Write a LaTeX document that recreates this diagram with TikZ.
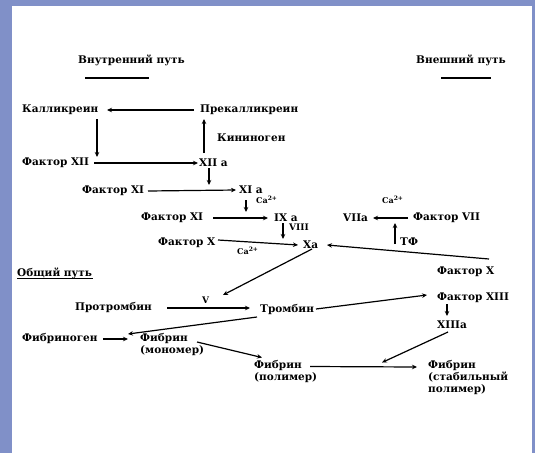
\documentclass[tikz,border=0pt]{standalone}
\usepackage{fontspec}
\setmainfont{DejaVu Serif}
\usetikzlibrary{arrows.meta,calc}
\definecolor{framecol}{RGB}{128,144,200}
\begin{document}
\begin{tikzpicture}[x=1pt,y=-1pt,
  lbl/.style={font=\bfseries\fontsize{10.5}{12}\selectfont, inner sep=0pt, anchor=west, align=left},
  sml/.style={font=\bfseries\fontsize{8}{9}\selectfont, inner sep=0pt, anchor=west},
  arr/.style={-{Stealth[length=5pt,width=4.5pt]}, line width=1.2pt},
  bar/.style={line width=1.4pt}]
\useasboundingbox (0,0) rectangle (535,453);
\fill[framecol] (0,0) rectangle (535,453);
\fill[white] (12,6) rectangle (532,453);
% headers
\node[lbl] (vnut) at (78,60) {Внутренний путь};
\node[lbl] (vnesh) at (416,60) {Внешний путь};
\draw[bar] ($(vnut.west)+(7,18)$) -- ($(vnut.west)+(71,18)$);
\draw[bar] ($(vnesh.west)+(25,18)$) -- ($(vnesh.west)+(75,18)$);
% intrinsic
\node[lbl] (kal) at (22,110) {Калликреин};
\node[lbl] (prek) at (200,110) {Прекалликреин};
\node[lbl] (kin) at (217,138) {Кининоген};
\node[lbl] (f12) at (22,163) {Фактор XII};
\node[lbl] (f12a) at (199,163) {XII a};
\node[lbl] (f11) at (82,191) {Фактор XI};
\node[lbl] (f11a) at (239,190) {XI a};
\node[sml] (ca1) at (256,200) {Ca\textsuperscript{2+}};
\node[lbl] (f9) at (141,218) {Фактор XI};
\node[lbl] (f9a) at (274,218) {IX a};
\node[sml,font=\bfseries\fontsize{9}{10}\selectfont] (viii) at (289,227) {VIII};
\node[lbl] (f10) at (158,243) {Фактор X};
\node[sml] (ca2) at (237,251) {Ca\textsuperscript{2+}};
\node[lbl] (xa) at (303,245) {Xa};
% extrinsic
\node[sml] (ca3) at (382,200) {Ca\textsuperscript{2+}};
\node[lbl] (f7a) at (343,218) {VIIa};
\node[lbl] (f7) at (413,218) {Фактор VII};
\node[lbl] (tf) at (400,242) {ТФ};
\node[lbl] (f10r) at (437,272) {Фактор X};
% common
\node[lbl] (common) at (17,273) {Общий путь};
\draw[line width=1pt] ($(common.west)+(0,5)$) -- ($(common.east)+(1,5)$);
\node[lbl] (prot) at (75,308) {Протромбин};
\node[sml,font=\bfseries\fontsize{9}{10}\selectfont] (v) at (202,300) {V};
\node[lbl] (thr) at (260,310) {Тромбин};
\node[lbl] (f13) at (437,298) {Фактор XIII};
\node[lbl] (f13a) at (437,325) {XIIIa};
\node[lbl] (fgn) at (22,339) {Фибриноген};
\node[lbl] (fmono) at (140,345) {Фибрин\\(мономер)};
\node[lbl] (fpoly) at (254,371.5) {Фибрин\\(полимер)};
\node[lbl] (fstab) at (428,378) {Фибрин\\(стабильный\\полимер)};
% arrows
\draw[arr] ($(prek.west)+(-6,0)$) -- ($(kal.west)+(85,0)$);
\draw[arr] ($(kal.west)+(75,9)$) -- ($(f12.west)+(75,-6)$);
\draw[arr] ($(f12.west)+(72,0)$) -- ($(f12a.west)+(-1,0)$);
\draw[arr] ($(f12a.west)+(5,-10)$) -- ($(prek.west)+(4,9)$);
\draw[arr] ($(f12a.west)+(10,5)$) -- ($(f11.west)+(127,-6)$);
\draw[arr] ($(f11.west)+(66,0)$) -- ($(f11a.west)+(-3,0)$);
\draw[arr] ($(f11a.west)+(7,10)$) -- ($(f9.west)+(105,-6)$);
\draw[arr] ($(f9.west)+(72,0)$) -- ($(f9a.west)+(-6,0)$);
\draw[arr] ($(f9a.west)+(9,5)$) -- ($(xa.west)+(-20,-6)$);
\draw[arr] ($(f10.west)+(60,-3)$) -- ($(xa.west)+(-5,0)$);
\draw[arr] ($(f10r.west)+(52,-13)$) -- ($(xa.west)+(24,0)$);
\draw[arr] ($(tf.west)+(-5,2)$) -- ($(f7.west)+(-18,5)$);
\draw[arr] ($(f7.west)+(-5,0)$) -- ($(f7a.west)+(30,0)$);
\draw[arr] ($(xa.west)+(9,4)$) -- ($(thr.west)+(-37,-15)$);
\draw[arr] ($(prot.west)+(92,0)$) -- ($(thr.west)+(-10,-2)$);
\draw[arr] ($(thr.west)+(56,-1)$) -- ($(f13.west)+(-10,-3)$);
\draw[arr] ($(f13.west)+(10,6)$) -- ($(f13a.west)+(10,-9)$);
\draw[arr] ($(thr.west)+(-3,7)$) -- ($(fmono.west)+(-12,-11)$);
\draw[arr] ($(fgn.east)+(5,0)$) -- ($(fmono.west)+(-12,-6)$);
\draw[arr] ($(fmono.west)+(57,-3)$) -- ($(fpoly.west)+(8,-14)$);
\draw[arr] ($(fpoly.west)+(56,-5)$) -- ($(fstab.west)+(-11,-11)$);
\draw[arr] ($(f13a.west)+(11,7)$) -- ($(fpoly.west)+(128,-9)$);
\end{tikzpicture}
\end{document}
